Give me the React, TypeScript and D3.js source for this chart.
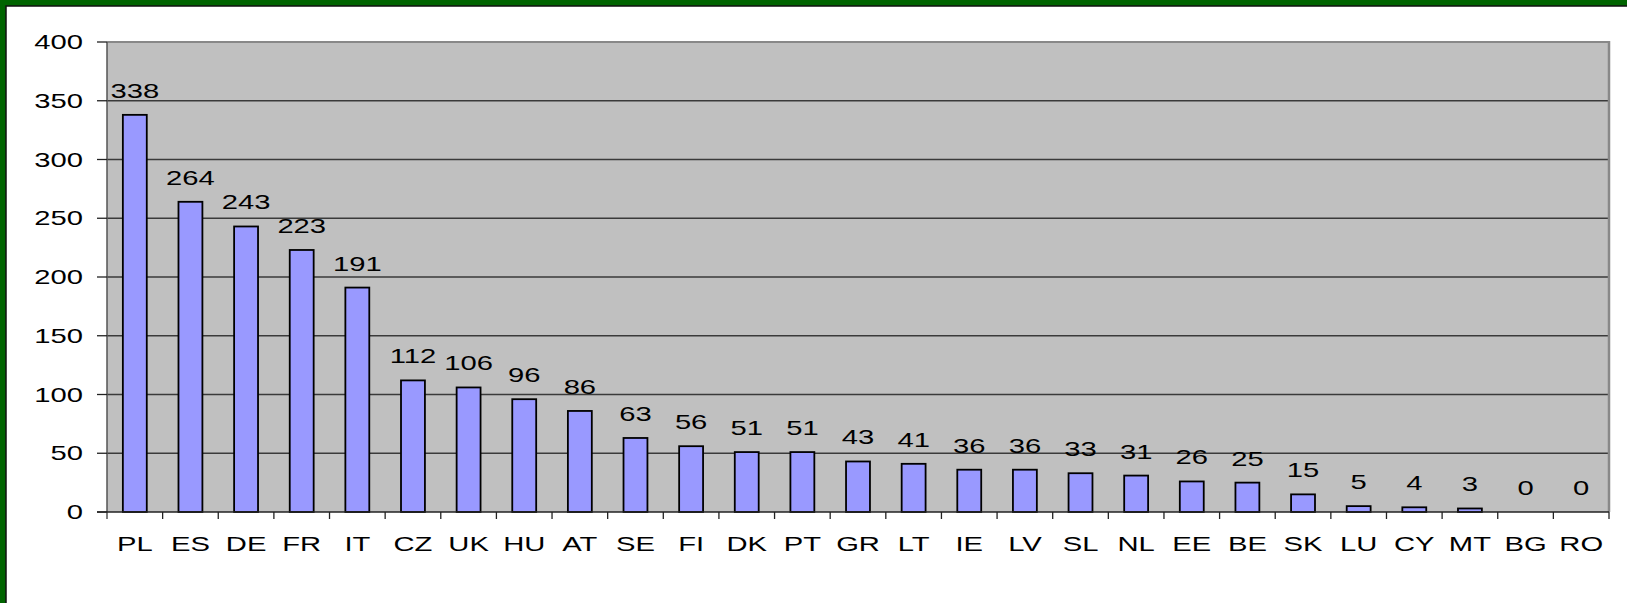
import React from 'react';
import * as d3 from 'd3';

const countries = ['PL', 'ES', 'DE', 'FR', 'IT', 'CZ', 'UK', 'HU', 'AT', 'SE', 'FI', 'DK', 'PT', 'GR', 'LT', 'IE', 'LV', 'SL', 'NL', 'EE', 'BE', 'SK', 'LU', 'CY', 'MT', 'BG', 'RO'];
const values = [338, 264, 243, 223, 191, 112, 106, 96, 86, 63, 56, 51, 51, 43, 41, 36, 36, 33, 31, 26, 25, 15, 5, 4, 3, 0, 0];
const yTicks = [0, 50, 100, 150, 200, 250, 300, 350, 400];

const W = 1627;
const H = 603;
const plot = { left: 107, right: 1609, top: 42, bottom: 512 };
const font = '"Liberation Sans", Arial, sans-serif';
const fs = 21;
const sx = 1.39; // text is stretched wide in the original

const App: React.FC = () => {
  const x = d3.scaleBand<string>().domain(countries).range([plot.left, plot.right]).padding(0);
  const y = d3.scaleLinear().domain([0, 400]).range([plot.bottom, plot.top]);
  const barW = x.bandwidth() * 0.43;

  return (
    <svg width={W} height={H} style={{ position: 'fixed', left: 0, top: 0 }} fontFamily={font}>
      {/* green frame */}
      <rect x={0} y={0} width={W} height={H} fill="#006400" />
      <rect x={6} y={6} width={W} height={H} fill="#fff" stroke="#111" strokeWidth={1.5} />

      {/* plot area */}
      <rect x={plot.left} y={plot.top} width={plot.right - plot.left} height={plot.bottom - plot.top} fill="#c0c0c0" />
      {yTicks.filter(t => t > 0 && t < 400).map(t => (
        <line key={t} x1={plot.left} x2={plot.right} y1={y(t)} y2={y(t)} stroke="#3a3a3a" strokeWidth={1.3} />
      ))}
      <line x1={plot.left} x2={plot.right} y1={plot.top} y2={plot.top} stroke="#888" strokeWidth={2} />
      <line x1={plot.right} x2={plot.right} y1={plot.top - 1} y2={plot.bottom} stroke="#888" strokeWidth={2.5} />

      {/* bars */}
      {countries.map((c, i) => {
        const cx = (x(c) as number) + x.bandwidth() / 2;
        return (
          <g key={c}>
            {values[i] > 0 && (
              <rect x={cx - barW / 2} y={y(values[i])} width={barW} height={y(0) - y(values[i])}
                fill="#9999ff" stroke="#000" strokeWidth={1.8} />
            )}
            <text transform={`translate(${cx},${y(values[i]) - 17}) scale(${sx},1)`} textAnchor="middle" fontSize={fs} fill="#000">
              {values[i]}
            </text>
            <text transform={`translate(${cx},${plot.bottom + 39}) scale(${sx},1)`} textAnchor="middle" fontSize={fs} fill="#000">
              {c}
            </text>
          </g>
        );
      })}

      {/* axes */}
      <line x1={plot.left} x2={plot.left} y1={plot.top} y2={plot.bottom + 7} stroke="#555" strokeWidth={1.5} />
      <line x1={plot.left - 10} x2={plot.right} y1={plot.bottom} y2={plot.bottom} stroke="#222" strokeWidth={1.5} />
      {yTicks.map(t => (
        <g key={t}>
          <line x1={plot.left - 10} x2={plot.left} y1={y(t)} y2={y(t)} stroke="#222" strokeWidth={1.3} />
          <text transform={`translate(83,${y(t) + 7}) scale(${sx},1)`} textAnchor="end" fontSize={fs} fill="#000">
            {t}
          </text>
        </g>
      ))}
      {countries.map(c => (
        <line key={c} x1={(x(c) as number) + x.bandwidth()} x2={(x(c) as number) + x.bandwidth()}
          y1={plot.bottom} y2={plot.bottom + 7} stroke="#222" strokeWidth={1.3} />
      ))}
    </svg>
  );
};

export default App;
